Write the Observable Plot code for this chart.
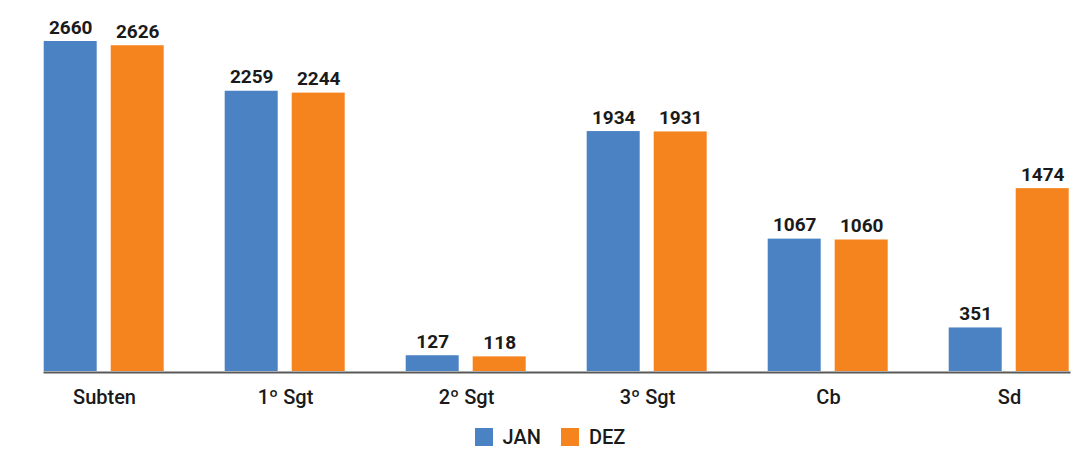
<!DOCTYPE html>
<html><head><meta charset="utf-8">
<script src="https://cdn.jsdelivr.net/npm/d3@7"></script>
<script src="https://cdn.jsdelivr.net/npm/@observablehq/plot@0.6"></script>
<style>
html,body{margin:0;background:#fff;font-family:Roboto,sans-serif;overflow:hidden;width:1088px}
#chart{width:1088px;overflow:hidden}
#legend{display:flex;justify-content:center;padding-top:17px;padding-left:32px;width:1088px;box-sizing:border-box;font-family:Roboto,sans-serif;font-size:20px;line-height:1;font-weight:500;color:#1a1a1a}
#legend [class*="swatches"]{font-size:20px !important;font-family:Roboto,sans-serif !important;margin-bottom:0 !important;min-height:18px !important;line-height:1 !important}
</style></head><body><div id="chart"></div><div id="legend"></div>
<script>
const categories = ["Subten", "1º Sgt", "2º Sgt", "3º Sgt", "Cb", "Sd"];
const series = ["JAN", "DEZ"];
const janValues = [2660, 2259, 127, 1934, 1067, 351];
const dezValues = [2626, 2244, 118, 1931, 1060, 1474];
const colors = ["#4a82c3", "#f5841f"];

const data = categories.flatMap((c, i) => [
  {category: c, series: series[0], value: janValues[i]},
  {category: c, series: series[1], value: dezValues[i]}
]);

const chart = Plot.plot({
  width: 1101, height: 410,
  marginTop: 41, marginBottom: 39, marginLeft: 12.3, marginRight: 0,
  facet: {marginTop: 0, marginBottom: 0, marginLeft: 0, marginRight: 0},
  style: {fontFamily: "Roboto, sans-serif", fontSize: "20px", fontWeight: 500, color: "#1a1a1a", background: "#fff", overflow: "visible", maxWidth: "none"},
  fx: {domain: categories, paddingInner: 0.3388, paddingOuter: 0.1694, label: null, axis: "bottom", tickSize: 0, tickPadding: 18},
  x: {domain: series, paddingInner: 0.209, paddingOuter: 0, axis: null},
  y: {domain: [0, 2660], axis: null, nice: false},
  color: {domain: series, range: colors},
  marks: [
    Plot.barY(data, {fx: "category", x: "series", y: "value", fill: "series"}),
    Plot.text(data, {fx: "category", x: "series", y: "value", text: d => String(d.value), dy: -8, lineAnchor: "bottom", fontWeight: 700, fontSize: 19, fill: "#1a1a1a"}),
    Plot.frame({anchor: "bottom", facet: "super", stroke: "#595959", strokeWidth: 2, dy: 1})
  ]
});
document.getElementById("chart").appendChild(chart);

const legend = Plot.legend({
  color: {domain: series, range: colors},
  legend: "swatches", swatchSize: 18,
  style: {fontSize: "20px", fontFamily: "Roboto, sans-serif", fontWeight: 500, color: "#1a1a1a"}
});
document.getElementById("legend").appendChild(legend);
</script>
</body></html>
